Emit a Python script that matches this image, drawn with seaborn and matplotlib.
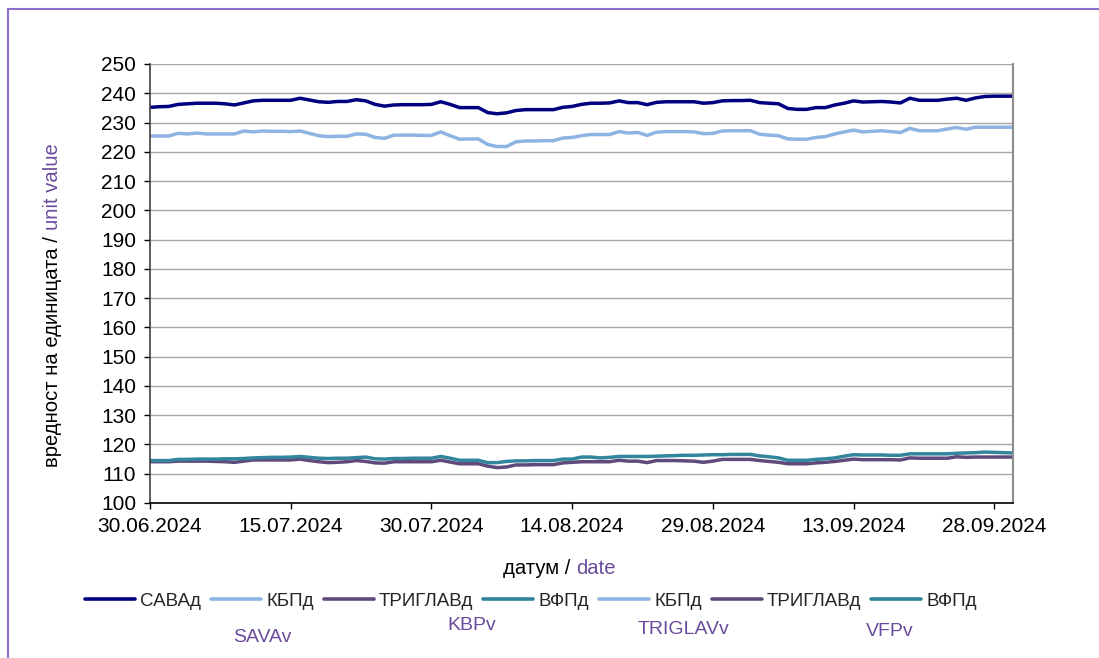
import matplotlib
matplotlib.use("Agg")
import matplotlib.pyplot as plt
import matplotlib.dates as mdates
from matplotlib.lines import Line2D
from matplotlib.patches import Rectangle
import seaborn as sns
import pandas as pd
import numpy as np

# ---------------- data (daily unit values, 30.06.2024 - 30.09.2024) ----------------
start_date = "2024-06-30"
sava = [235.2, 235.4, 235.5, 236.2, 236.4, 236.6, 236.6, 236.6, 236.4, 236.0,
        236.7, 237.4, 237.6, 237.6, 237.6, 237.6, 238.3, 237.7, 237.1, 236.9,
        237.2, 237.2, 237.8, 237.4, 236.2, 235.6, 236.0, 236.1, 236.1, 236.1,
        236.2, 237.1, 236.2, 235.1, 235.1, 235.1, 233.4, 233.0, 233.3, 234.1,
        234.4, 234.4, 234.4, 234.4, 235.2, 235.5, 236.2, 236.6, 236.6, 236.7,
        237.4, 236.8, 236.8, 236.1, 236.9, 237.1, 237.1, 237.1, 237.1, 236.6,
        236.8, 237.4, 237.5, 237.5, 237.6, 236.8, 236.6, 236.4, 234.8, 234.5,
        234.5, 235.1, 235.1, 236.0, 236.6, 237.4, 237.0, 237.1, 237.2, 237.0,
        236.7, 238.3, 237.6, 237.6, 237.6, 238.0, 238.3, 237.6, 238.4, 238.9,
        239.0, 239.0, 239.0]
kbp = [225.4, 225.4, 225.4, 226.3, 226.1, 226.4, 226.1, 226.1, 226.1, 226.1,
       227.1, 226.8, 227.1, 227.0, 227.0, 226.9, 227.1, 226.3, 225.5, 225.2,
       225.3, 225.3, 226.1, 226.0, 224.9, 224.6, 225.7, 225.7, 225.7, 225.6,
       225.6, 226.8, 225.5, 224.3, 224.4, 224.4, 222.5, 221.8, 221.8, 223.4,
       223.7, 223.7, 223.8, 223.8, 224.7, 224.9, 225.5, 225.9, 225.9, 225.9,
       226.9, 226.4, 226.6, 225.6, 226.7, 226.9, 226.9, 226.9, 226.8, 226.2,
       226.3, 227.1, 227.2, 227.2, 227.2, 226.0, 225.7, 225.5, 224.4, 224.3,
       224.3, 224.9, 225.2, 226.1, 226.8, 227.4, 226.8, 227.0, 227.2, 226.9,
       226.6, 228.0, 227.2, 227.2, 227.2, 227.8, 228.3, 227.7, 228.4, 228.4,
       228.4, 228.4, 228.4]
triglav = [114.1, 114.1, 114.1, 114.3, 114.3, 114.3, 114.3, 114.2, 114.1, 113.9,
           114.3, 114.7, 114.7, 114.7, 114.7, 114.7, 115.0, 114.5, 114.1, 113.8,
           113.9, 114.1, 114.5, 114.2, 113.7, 113.6, 114.1, 114.1, 114.1, 114.1,
           114.1, 114.6, 114.0, 113.4, 113.4, 113.4, 112.6, 112.1, 112.3, 113.0,
           113.0, 113.1, 113.1, 113.1, 113.7, 113.9, 114.1, 114.1, 114.1, 114.1,
           114.6, 114.3, 114.3, 113.8, 114.5, 114.5, 114.5, 114.4, 114.3, 113.9,
           114.3, 114.9, 114.9, 114.9, 114.9, 114.5, 114.2, 113.9, 113.4, 113.4,
           113.4, 113.7, 113.9, 114.2, 114.6, 115.0, 114.8, 114.8, 114.8, 114.8,
           114.7, 115.4, 115.3, 115.3, 115.3, 115.3, 115.8, 115.6, 115.7, 115.7,
           115.7, 115.7, 115.7]
vfp = [114.5, 114.5, 114.5, 114.9, 114.9, 115.0, 115.0, 115.0, 115.1, 115.1,
       115.2, 115.4, 115.5, 115.6, 115.6, 115.7, 115.9, 115.6, 115.3, 115.2,
       115.3, 115.3, 115.5, 115.7, 115.1, 115.0, 115.2, 115.2, 115.3, 115.3,
       115.3, 115.9, 115.3, 114.6, 114.6, 114.6, 113.8, 113.8, 114.2, 114.4,
       114.4, 114.5, 114.5, 114.5, 115.0, 115.0, 115.7, 115.7, 115.4, 115.6,
       115.9, 115.9, 115.9, 115.9, 116.0, 116.1, 116.2, 116.3, 116.3, 116.4,
       116.5, 116.5, 116.6, 116.6, 116.6, 116.1, 115.8, 115.4, 114.6, 114.6,
       114.6, 114.9, 115.1, 115.4, 116.0, 116.5, 116.4, 116.4, 116.4, 116.3,
       116.3, 116.8, 116.8, 116.8, 116.8, 116.8, 117.0, 117.1, 117.2, 117.4,
       117.3, 117.2, 117.1]

series_names = ["САВАд", "КБПд", "ТРИГЛАВд", "ВФПд"]
legend_labels = ["САВАд", "КБПд", "ТРИГЛАВд", "ВФПд", "КБПд", "ТРИГЛАВд", "ВФПд"]
latin_labels = ["SAVAv", "KBPv", "TRIGLAVv", "VFPv"]
y_ticks = [100, 110, 120, 130, 140, 150, 160, 170, 180, 190, 200, 210, 220, 230, 240, 250]
tick_dates = ["2024-06-30", "2024-07-15", "2024-07-30", "2024-08-14",
              "2024-08-29", "2024-09-13", "2024-09-28"]
x_end = "2024-09-30"

colors = {"САВАд": "#000080", "КБПд": "#8DB4E2", "ТРИГЛАВд": "#604A7B", "ВФПд": "#31859C"}
legend_colors = ["#000080", "#8DB4E2", "#604A7B", "#31859C", "#8DB4E2", "#604A7B", "#31859C"]
purple_txt = "#6A4C9C"

# ---------------- build frame ----------------
dates = pd.date_range(start_date, periods=len(sava), freq="D")
df = pd.concat([
    pd.DataFrame({"date": dates, "value": vals, "fund": name})
    for name, vals in zip(series_names, [sava, kbp, triglav, vfp])
], ignore_index=True)

# ---------------- style ----------------
sns.set_theme(style="white")
plt.rcParams["font.family"] = ["Liberation Sans", "DejaVu Sans"]
FS_TICK = 15
FS_LAB = 14.6
FS_LEG = 13.5

W, H = 1099, 658
fig = plt.figure(figsize=(W / 100, H / 100), dpi=100)
fig.patch.set_facecolor("white")

# outer purple frame
fig.patches.append(Rectangle((8 / W, -0.1), 1.2, 1 - 9 / H + 0.1, transform=fig.transFigure,
                             fill=False, edgecolor="#8C70C8", linewidth=1.5))

ax = fig.add_axes([150 / W, 1 - 503 / H, (1013 - 150) / W, (503 - 64) / H])

sns.lineplot(data=df, x="date", y="value", hue="fund", palette=colors,
             hue_order=series_names, linewidth=2.5, ax=ax, legend=False)

ax.set_ylim(100, 250)
ax.set_yticks(y_ticks)
ax.set_xlim(pd.Timestamp(start_date), pd.Timestamp(x_end))
ax.set_xticks([pd.Timestamp(d) for d in tick_dates])
ax.xaxis.set_major_formatter(mdates.DateFormatter("%d.%m.%Y"))

ax.grid(axis="y", color="#A6A6A6", linewidth=1.0)
ax.grid(axis="x", visible=False)
ax.set_axisbelow(True)
ax.spines["top"].set_visible(False)
ax.spines["right"].set_color("#8C8C8C")
ax.spines["right"].set_linewidth(1.5)
ax.spines["left"].set_color("#404040")
ax.spines["left"].set_linewidth(1.2)
ax.spines["bottom"].set_color("#000000")
ax.spines["bottom"].set_linewidth(1.2)
ax.tick_params(axis="both", which="major", direction="out", length=4, width=1,
               color="#000000", labelsize=FS_TICK, labelcolor="#000000", left=True, bottom=True)
ax.tick_params(axis="y", pad=6)
ax.tick_params(axis="x", pad=6)
ax.set_xlabel("")
ax.set_ylabel("")

# ---------------- axis titles with two colours ----------------
fig.canvas.draw()
r = fig.canvas.get_renderer()

t1 = fig.text(503 / W, 1 - 568 / H, "датум / ", fontsize=FS_LAB, color="black",
              ha="left", va="center")
bb = t1.get_window_extent(renderer=r)
fig.text(bb.x1 / W, 1 - 568 / H, "date", fontsize=FS_LAB, color=purple_txt,
         ha="left", va="center")

t2 = fig.text(53 / W, 1 - 467 / H, "вредност на единицата / ", fontsize=FS_LAB, color="black",
              ha="center", va="bottom", rotation=90)
bb2 = t2.get_window_extent(renderer=r)
fig.text(53 / W, bb2.y1 / H, "unit value", fontsize=FS_LAB, color=purple_txt,
         ha="center", va="bottom", rotation=90)

# ---------------- legend ----------------
em = FS_LEG * 100 / 72
handles = [Line2D([0], [0], color=c, linewidth=2.6) for c in legend_colors]
leg = fig.legend(handles, legend_labels, loc="center", bbox_to_anchor=(531 / W, 1 - 601 / H),
                 ncol=7, frameon=False, fontsize=FS_LEG, handlelength=50 / em,
                 handletextpad=5 / em, columnspacing=10 / em, borderpad=0)

for lab, (xc, yc) in zip(latin_labels, [(262, 637), (472, 626), (683, 630), (890, 632)]):
    fig.text(xc / W, 1 - yc / H, lab, fontsize=14, color=purple_txt, ha="center", va="center")

fig.savefig("out.png", dpi=100)
